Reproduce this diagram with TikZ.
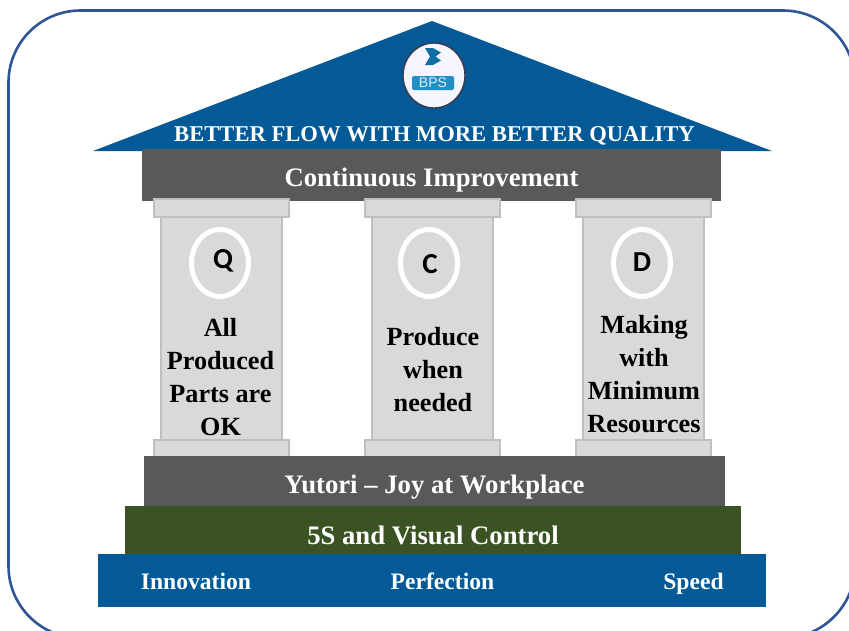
\documentclass[tikz,border=0pt]{standalone}
\usepackage{fontspec}
\setmainfont{Liberation Serif}
\newfontfamily\qfont{Carlito}
\newfontfamily\logofont{Liberation Sans}
\usetikzlibrary{shapes.geometric}
\definecolor{frameblue}{HTML}{2F5597}
\definecolor{roofblue}{HTML}{045A96}
\definecolor{bargray}{HTML}{595959}
\definecolor{pillarfill}{HTML}{D9D9D9}
\definecolor{pillarline}{HTML}{BFBFBF}
\definecolor{barigreen}{HTML}{3B5323}
\definecolor{logoblue}{HTML}{1F8FC4}
\definecolor{logomark}{HTML}{126FA3}
\definecolor{logoedge}{HTML}{3A3A4A}
\tikzset{
  x=1pt,y=-1pt,
  bartitle/.style={font=\fontsize{26.7}{26.7}\selectfont\bfseries,text=white,inner sep=0pt,anchor=base},
  flowtitle/.style={font=\fontsize{22.6}{22.6}\selectfont\bfseries,text=white,inner sep=0pt,anchor=base},
  basetitle/.style={font=\fontsize{23.6}{23.6}\selectfont\bfseries,text=white,inner sep=0pt,anchor=base},
  pillartitle/.style={font=\fontsize{26.2}{33}\selectfont\bfseries,text=black,inner sep=0pt,align=center},
  pillarpart/.style={draw=pillarline,fill=pillarfill,line width=2pt},
  badge/.style={ellipse,draw=white,line width=5pt,minimum width=57pt,minimum height=67pt,inner sep=0pt},
  badgeletter/.style={font=\qfont\fontsize{29}{29}\selectfont\bfseries,text=black,inner sep=0pt},
}
\begin{document}
\begin{tikzpicture}
\useasboundingbox (0,0) rectangle (849,630);
\clip (0,0) rectangle (849,630);
\fill[white] (0,0) rectangle (849,630);
% outer frame
\draw[frameblue,line width=2.6pt,rounded corners=72pt] (8.5,10.5) rectangle (855,638);
% roof
\fill[roofblue] (432,21) -- (772,151) -- (93,151) -- cycle;
% logo
\node[ellipse,draw=logoedge,fill=white!96!blue,line width=1.4pt,minimum width=62pt,minimum height=65pt,inner sep=0pt] (logo) at (434,75.5) {};
\fill[logomark] (425,48) -- (433,48) -- (441,52.5) -- (435.5,56.5) -- (441,60.5) -- (433,65) -- (425,65) -- (430,56.5) -- cycle;
\node[rounded corners=2pt,fill=logoblue,minimum width=42pt,minimum height=14pt,inner sep=0pt,
  font=\logofont\fontsize{14}{14}\selectfont,text=white!85!logoblue] (bps) at (433,83) {BPS};
\node[flowtitle] (flow) at (434.5,141) {BETTER FLOW WITH MORE BETTER QUALITY};
% top bar
\node[fill=bargray,minimum width=579pt,minimum height=52pt,inner sep=0pt] (topbar) at (431.5,175) {};
\node[bartitle] (ci) at (431.5,186) {Continuous Improvement};
% pillars
\foreach \n/\cx in {q/221,c/432,d/643.5}{
  \draw[pillarpart] (\cx-60.5,217) rectangle (\cx+60.5,440);
  \draw[pillarpart] (\cx-67.5,199) rectangle (\cx+67.5,217);
  \draw[pillarpart] (\cx-67.5,440) rectangle (\cx+67.5,457);
}
\node[badge] (qb) at (220,263) {};
\node[badgeletter] (ql) at (223,260.5) {Q};
\node[badge] (cb) at (429,263) {};
\node[badgeletter] (cl) at (430,264) {C};
\node[badge] (db) at (642,263) {};
\node[badgeletter] (dl) at (642,262) {D};
\node[pillartitle] (qt) at (220.5,377) {All\\Produced\\Parts are\\OK};
\node[pillartitle] (ct) at (433,369.5) {Produce\\when\\needed};
\node[pillartitle] (dt) at (644,374.5) {Making\\with\\Minimum\\Resources};
% base bars
\node[fill=bargray,minimum width=581pt,minimum height=51pt,inner sep=0pt] (yutori) at (434.5,481.5) {};
\node[bartitle] (yt) at (434.5,493) {Yutori – Joy at Workplace};
\node[fill=barigreen,minimum width=616pt,minimum height=48pt,inner sep=0pt] (fives) at (433,530) {};
\node[bartitle] (ft) at (433,544.5) {5S and Visual Control};
\node[fill=roofblue,minimum width=668pt,minimum height=53pt,inner sep=0pt] (ground) at (432,580.5) {};
\node[basetitle] (inn) at (196,589) {Innovation};
\node[basetitle] (per) at (442.5,589) {Perfection};
\node[basetitle] (spd) at (693.5,589) {Speed};
\end{tikzpicture}
\end{document}
